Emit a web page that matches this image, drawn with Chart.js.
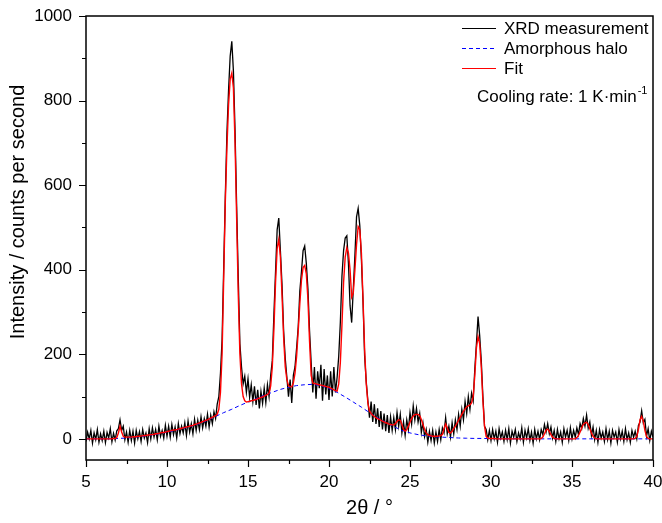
<!DOCTYPE html>
<html>
<head>
<meta charset="utf-8">
<title>XRD pattern - cooling rate 1 K/min</title>
<script src="https://cdn.jsdelivr.net/npm/chart.js"></script>
<style>
    body {
        margin: 0;
        background: #ffffff;
    }
    #wrap {
        width: 662px;
        height: 523px;
    }
</style>
</head>
<body>
<div id="wrap"><canvas id="xrd" width="662" height="523"></canvas></div>
<script>
// 2theta grid: measurement and fit are sampled every 0.1 deg from 5 deg
const angleStart = 5;
const sampleStep = 0.1;

// XRD measurement (counts per second), 5.0 ... 40.0
const measurement = [
    -6, 16, 0, 20, -10, 14, -2, 22, -8, 12,
    -4, 18, -9, 15, 2, 24, -7, 13, -3, 19,
    24, 45, 20, 30, -2, 16, -8, 20, -4, 18,
    -10, 20, 0, 17, -6, 22, 2, 14, -9, 24,
    0, 26, 4, 22, -2, 30, 6, 20, 2, 32,
    6, 30, 4, 34, 10, 28, 2, 36, 12, 30,
    14, 38, 8, 42, 16, 36, 12, 46, 20, 44,
    22, 52, 26, 48, 30, 58, 28, 56, 36, 64,
    48, 82, 100, 155, 235, 405, 575, 725, 825, 905,
    940, 870, 730, 550, 380, 225, 170, 130, 148, 110,
    142, 98, 128, 88, 124, 80, 116, 72, 112, 84,
    120, 86, 128, 100, 150, 185, 295, 395, 495, 522,
    445, 365, 255, 190, 145, 100, 140, 85, 150, 170,
    215, 265, 350, 395, 445, 456, 415, 355, 255, 180,
    110, 170, 95, 160, 120, 175, 90, 165, 105, 150,
    92, 160, 100, 170, 110, 145, 195, 275, 385, 445,
    475, 480, 415, 315, 275, 355, 435, 525, 545, 505,
    425, 325, 195, 135, 90, 50, 88, 40, 82, 35,
    72, 28, 66, 22, 60, 18, 56, 14, 52, 20,
    50, 22, 62, 30, 58, 14, 40, 8, 45, 22,
    62, 35, 78, 45, 72, 40, 60, 15, 38, 5,
    22, -8, 18, -4, 20, -10, 16, -6, 22, -2,
    26, 14, 50, 12, 30, 4, 38, 12, 45, 22,
    58, 30, 70, 45, 88, 60, 100, 70, 108, 90,
    165, 225, 289, 245, 185, 100, 30, 22, -2, 20,
    -4, 22, 0, 18, -8, 24, 2, 16, -6, 20,
    -2, 24, -10, 18, 4, 22, -6, 14, 0, 26,
    -8, 20, 2, 24, -4, 16, -10, 22, 0, 18,
    -2, 22, 10, 34, 16, 36, 12, 28, 2, 20,
    -6, 22, 0, 16, -8, 24, 4, 20, -4, 26,
    0, 20, 4, 26, 10, 36, 24, 48, 30, 56,
    25, 40, 8, 28, -2, 20, -8, 22, 2, 16,
    -6, 24, -2, 18, -10, 20, 4, 16, -8, 22,
    0, 18, -6, 24, -2, 14, -8, 20, 4, 18,
    0, 32, 40, 66, 38, 46, 6, 24, -4, 18,
    4
];

// Fit curve, same grid
const fit = [
    0, 0, 0, 0, 0, 0, 0, 0, 0, 0,
    0, 0, 0, 0, 0, 0, 0, 1, 1, 3,
    14, 30, 16, 6, 4, 4, 4, 4, 4, 5,
    5, 5, 6, 6, 7, 7, 8, 8, 9, 9,
    10, 10, 11, 12, 12, 13, 14, 15, 15, 16,
    17, 18, 19, 20, 21, 21, 22, 23, 24, 25,
    26, 27, 28, 29, 30, 31, 32, 34, 35, 36,
    38, 39, 41, 42, 44, 45, 47, 49, 51, 53,
    55, 58, 70, 110, 200, 380, 560, 690, 790, 850,
    865, 830, 700, 520, 340, 200, 130, 100, 90, 87,
    88, 89, 90, 91, 92, 93, 95, 96, 98, 99,
    101, 103, 105, 108, 125, 170, 260, 370, 450, 472,
    430, 340, 240, 170, 140, 126, 123, 123, 132, 155,
    195, 255, 320, 375, 405, 410, 390, 330, 230, 150,
    132, 131, 130, 129, 128, 127, 126, 125, 124, 123,
    122, 120, 118, 116, 114, 113, 130, 180, 270, 370,
    430, 452, 440, 400, 335, 345, 400, 460, 502, 495,
    440, 330, 210, 130, 85, 66, 60, 56, 53, 50,
    48, 46, 44, 42, 40, 38, 37, 35, 34, 33,
    33, 36, 41, 45, 44, 34, 22, 18, 22, 30,
    40, 48, 54, 57, 58, 58, 55, 46, 34, 22,
    14, 10, 8, 7, 6, 6, 6, 6, 7, 8,
    10, 24, 35, 26, 15, 14, 18, 24, 30, 37,
    44, 51, 58, 65, 71, 76, 78, 80, 85, 100,
    150, 215, 242, 225, 170, 90, 30, 6, 2, 1,
    1, 1, 1, 0, 0, 0, 0, 0, 0, 0,
    0, 0, 0, 0, 0, 0, 0, 0, 0, 0,
    0, 0, 0, 0, 0, 0, 0, 0, 0, 0,
    0, 1, 4, 12, 21, 23, 18, 10, 4, 1,
    0, 0, 0, 0, 0, 0, 0, 0, 0, 0,
    0, 0, 0, 3, 8, 16, 26, 34, 38, 39,
    34, 24, 14, 6, 2, 0, 0, 0, 0, 0,
    0, 0, 0, 0, 0, 0, 0, 0, 0, 0,
    0, 0, 0, 0, 0, 0, 0, 0, 0, 1,
    6, 22, 45, 53, 42, 20, 6, 1, 0, 0,
    0
];

// Amorphous halo, sampled every 0.5 deg from 5 deg
const haloStep = 0.5;
const halo = [
    0, 0, 0, 0, 1, 2, 4, 6, 9, 12,
    16, 20, 25, 30, 36, 44, 53, 62, 70, 79,
    87, 95, 103, 110, 117, 122, 126, 128, 129, 126,
    119, 110, 99, 87, 75, 62, 50, 39, 29, 20,
    14, 10, 7, 5, 4, 3, 2, 1.5, 1, 1,
    0.5, 0, 0, 0, 0, 0, 0, 0, 0, 0,
    0, 0, 0, 0, 0, 0, 0, 0, 0, 0,
    0
];

const seriesNames = ['XRD measurement', 'Amorphous halo', 'Fit'];
const xTickValues = [5, 10, 15, 20, 25, 30, 35, 40];
const yTickValues = [0, 200, 400, 600, 800, 1000];
const yTitle = 'Intensity / counts per second';

const FONT = "'Liberation Sans', Arial, sans-serif";

function toPoints(values, step) {
    return values.map((v, i) => ({ x: +(angleStart + i * step).toFixed(2), y: v }));
}

// frame, tick marks (major + minor), y title and the in-plot legend
const decorations = {
    id: 'decorations',
    afterDraw(chart) {
        const ctx = chart.ctx;
        const area = chart.chartArea;
        const xs = chart.scales.x;
        const ys = chart.scales.y;
        ctx.save();
        ctx.strokeStyle = '#000';
        ctx.lineWidth = 1.5;
        ctx.strokeRect(area.left, area.top, area.right - area.left, area.bottom - area.top);

        ctx.lineWidth = 1.2;
        ctx.beginPath();
        for (let v = 5; v <= 40; v += 2.5) {
            const px = Math.round(xs.getPixelForValue(v)) + 0.5;
            const len = v % 5 === 0 ? 7 : 4;
            ctx.moveTo(px, area.bottom);
            ctx.lineTo(px, area.bottom + len);
        }
        for (let v = 0; v <= 1000; v += 100) {
            const py = Math.round(ys.getPixelForValue(v)) + 0.5;
            const len = v % 200 === 0 ? 7 : 4;
            ctx.moveTo(area.left, py);
            ctx.lineTo(area.left - len, py);
        }
        ctx.stroke();

        // y axis title (sits a little above the axis centre in the original)
        ctx.save();
        ctx.translate(18, 212);
        ctx.rotate(-Math.PI / 2);
        ctx.font = '20px ' + FONT;
        ctx.fillStyle = '#000';
        ctx.textAlign = 'center';
        ctx.textBaseline = 'middle';
        ctx.fillText(yTitle, 0, 0);
        ctx.restore();

        // legend
        const lx0 = 462, lx1 = 496, tx = 504;
        const rows = [28.5, 48.5, 68.5];
        ctx.font = '17px ' + FONT;
        ctx.textBaseline = 'middle';
        ctx.textAlign = 'left';
        chart.data.datasets.forEach((ds, i) => {
            ctx.strokeStyle = ds.borderColor;
            ctx.lineWidth = Math.min(ds.borderWidth, 1.2);
            ctx.setLineDash(ds.borderDash || []);
            ctx.beginPath();
            ctx.moveTo(lx0, rows[i]);
            ctx.lineTo(lx1, rows[i]);
            ctx.stroke();
            ctx.setLineDash([]);
            ctx.fillStyle = '#000';
            ctx.fillText(ds.label, tx, rows[i] + 1);
        });

        // annotation
        const main = 'Cooling rate: 1 K\u00b7min';
        ctx.font = '17px ' + FONT;
        const w = ctx.measureText(main).width;
        const ax = 477;
        ctx.fillText(main, ax, 97);
        ctx.font = '11px ' + FONT;
        ctx.fillText('-1', ax + w + 1, 91);
        ctx.restore();
    }
};

new Chart(document.getElementById('xrd'), {
    type: 'line',
    data: {
        datasets: [
            {
                label: seriesNames[0],
                data: toPoints(measurement, sampleStep),
                borderColor: '#000000',
                borderWidth: 1.3,
                order: 3
            },
            {
                label: seriesNames[1],
                data: toPoints(halo, haloStep),
                borderColor: '#0000ff',
                borderWidth: 1,
                borderDash: [4, 3],
                order: 2
            },
            {
                label: seriesNames[2],
                data: toPoints(fit, sampleStep),
                borderColor: '#ff0000',
                borderWidth: 1.4,
                order: 1
            }
        ]
    },
    options: {
        responsive: false,
        animation: false,
        layout: { padding: { top: 16, right: 9, left: 0, bottom: 0 } },
        elements: {
            point: { radius: 0 },
            line: { tension: 0 }
        },
        plugins: {
            legend: { display: false },
            tooltip: { enabled: false }
        },
        scales: {
            x: {
                type: 'linear',
                min: 5,
                max: 40,
                afterBuildTicks: axis => { axis.ticks = xTickValues.map(v => ({ value: v })); },
                afterFit: axis => {
                    axis.height = 63;
                    axis.paddingLeft = 0;
                    axis.paddingRight = 0;
                },
                grid: { display: false, drawTicks: false },
                border: { display: false },
                ticks: {
                    autoSkip: false,
                    maxRotation: 0,
                    padding: 12,
                    color: '#000',
                    font: { family: FONT, size: 17 },
                    callback: v => String(v)
                },
                title: {
                    display: true,
                    text: '2θ / °',
                    color: '#000',
                    font: { family: FONT, size: 20 },
                    padding: { top: 0, bottom: 3 }
                }
            },
            y: {
                type: 'linear',
                min: -50,
                max: 1000,
                afterBuildTicks: axis => { axis.ticks = yTickValues.map(v => ({ value: v })); },
                afterFit: axis => {
                    axis.width = 86;
                    axis.paddingTop = 0;
                    axis.paddingBottom = 0;
                },
                grid: { display: false, drawTicks: false },
                border: { display: false },
                ticks: {
                    autoSkip: false,
                    padding: 14,
                    color: '#000',
                    font: { family: FONT, size: 17 },
                    callback: v => String(v)
                },
                title: { display: false }
            }
        }
    },
    plugins: [decorations]
});
</script>
</body>
</html>
